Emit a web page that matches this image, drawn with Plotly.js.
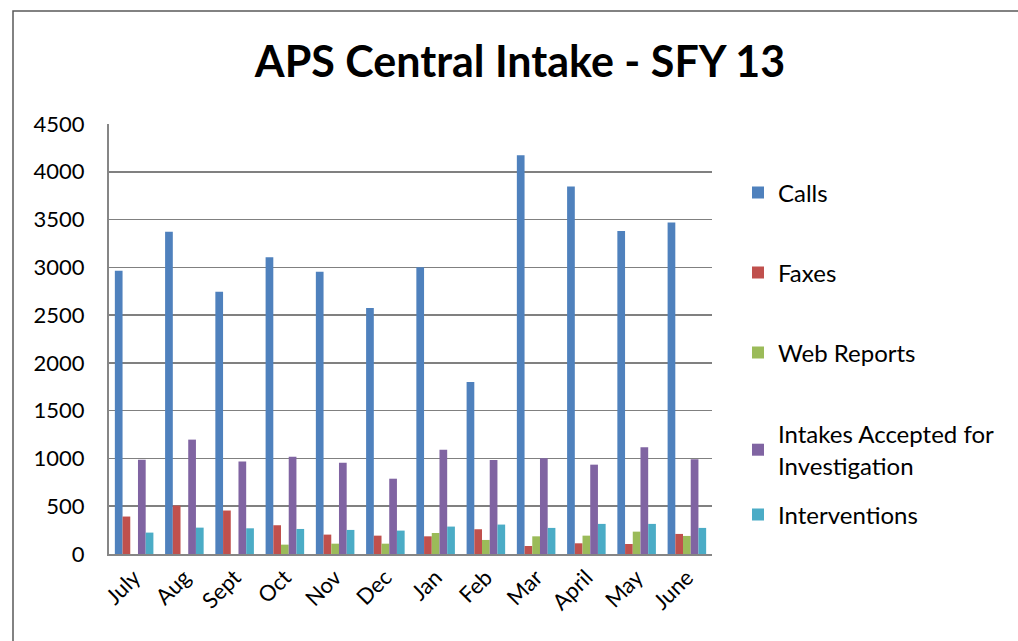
<!DOCTYPE html>
<html>
<head>
<meta charset="utf-8">
<script src="https://cdn.plot.ly/plotly-3.0.1.min.js"></script>
<style>
  html, body { margin: 0; padding: 0; background: #fff; }
  #chart { width: 1018px; height: 641px; }
</style>
</head>
<body>
<div id="chart"></div>
<script>
const months = ["July", "Aug", "Sept", "Oct", "Nov", "Dec", "Jan", "Feb", "Mar", "April", "May", "June"];
const calls = [2965, 3372, 2745, 3105, 2955, 2574, 3000, 1800, 4174, 3846, 3381, 3468];
const faxes = [392, 507, 455, 301, 203, 192, 185, 259, 84, 112, 105, 210];
const webReports = [0, 0, 0, 98, 108, 108, 220, 147, 185, 192, 234, 189];
const intakes = [987, 1197, 969, 1019, 956, 788, 1092, 983, 1001, 935, 1117, 991];
const interventions = [224, 276, 269, 262, 252, 245, 287, 308, 273, 315, 315, 273];
const yTicks = [0, 500, 1000, 1500, 2000, 2500, 3000, 3500, 4000, 4500];

const seriesNames = ["Calls", "Faxes", "Web Reports", "Intakes Accepted for<br>Investigation", "Interventions"];
const seriesValues = [calls, faxes, webReports, intakes, interventions];
const seriesColors = ["#4F81BD", "#C0504D", "#9BBB59", "#8064A2", "#4BACC6"];

const FONT = "Lato, 'Open Sans', sans-serif";
const L = 109, R = 712, T = 124, B = 554, W = 1018, H = 641;
const px = v => (v - L) / (R - L);
const py = v => (B - v) / (B - T);

const legendIds = ["legend", "legend2", "legend3", "legend4", "legend5"];
const legendCenters = [193, 273, 353, 450, 515];

const traces = seriesValues.map((vals, i) => ({
  type: "bar",
  x: months,
  y: vals,
  name: seriesNames[i],
  legend: legendIds[i],
  marker: { color: seriesColors[i], line: { width: 0 } },
  hoverinfo: "x+y+name"
}));

const layout = {
  width: W,
  height: H,
  margin: { l: L, r: W - R, t: T, b: H - B, pad: 0 },
  paper_bgcolor: "#ffffff",
  plot_bgcolor: "#ffffff",
  font: { family: FONT, color: "#000000", size: 22 },
  title: {
    text: "<b>APS Central Intake - SFY 13</b>",
    font: { family: FONT, size: 43, color: "#000000" },
    x: 520 / W, xanchor: "center", xref: "container",
    y: 1 - 62 / H, yanchor: "middle", yref: "container"
  },
  barmode: "group",
  bargap: 0.233,
  bargroupgap: 0,
  showlegend: true,
  xaxis: {
    type: "category",
    tickangle: -45,
    tickfont: { family: FONT, size: 22, color: "#000000" },
    showgrid: false,
    showline: true,
    linecolor: "#868686",
    linewidth: 2,
    ticks: "",
    fixedrange: true
  },
  yaxis: {
    range: [0, 4500],
    tickvals: yTicks,
    ticktext: yTicks.map(String),
    tickfont: { family: FONT, size: 22, color: "#000000" },
    showgrid: true,
    gridcolor: "#808080",
    gridwidth: 1.6,
    showline: true,
    linecolor: "#868686",
    linewidth: 2,
    zeroline: false,
    ticks: "",
    ticklabelstandoff: 18,
    fixedrange: true
  },
  shapes: [{
    type: "path",
    xref: "paper", yref: "paper",
    path: `M ${px(13)} ${py(H)} L ${px(13)} ${py(11)} L ${px(W)} ${py(11)}`,
    line: { color: "#595959", width: 1.5 }
  }]
};

legendIds.forEach((id, i) => {
  layout[id] = {
    x: px(738), xanchor: "left",
    y: py(legendCenters[i]), yanchor: "middle",
    font: { family: FONT, size: 24, color: "#000000" },
    itemwidth: 30,
    bgcolor: "rgba(0,0,0,0)"
  };
});

Plotly.newPlot("chart", traces, layout, { displayModeBar: false, staticPlot: true });
</script>
</body>
</html>
